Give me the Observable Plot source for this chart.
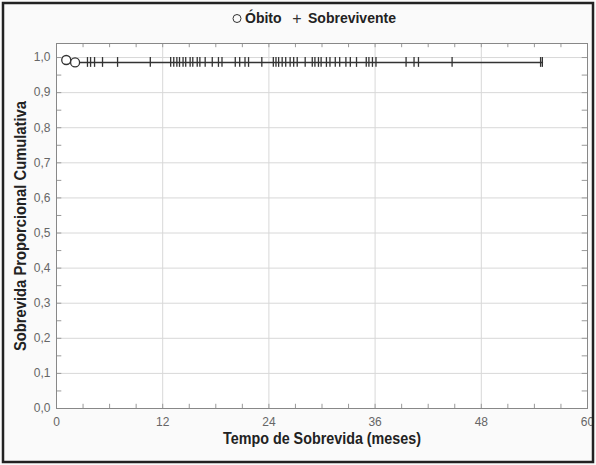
<!DOCTYPE html>
<html><head><meta charset="utf-8">
<script src="https://cdn.jsdelivr.net/npm/d3@7"></script>
<script src="https://cdn.jsdelivr.net/npm/@observablehq/plot@0.6"></script>
<style>
body{margin:0;background:#fff;}
#chart{width:596px;height:465px;}
</style></head>
<body><div id="chart"></div>
<script>
const obitoTimes = [1.1, 2.1];
const obitoSurv = [0.993, 0.986];
const censorTimes = [3.5, 3.85, 4.3, 5.2, 6.9, 10.6, 12.9, 13.25, 13.6, 13.9, 14.3, 14.6, 15.1, 15.4, 15.9, 16.2, 16.8, 17.6, 18.3, 18.7, 20.2, 20.7, 21.3, 21.7, 23.2, 24.5, 24.8, 25.1, 25.5, 25.9, 26.4, 26.8, 27.2, 28.1, 28.9, 29.2, 29.6, 29.9, 30.5, 30.9, 31.5, 32.0, 32.7, 33.2, 33.9, 35.0, 35.3, 35.7, 36.1, 39.5, 40.4, 40.9, 44.7, 54.7, 54.9];
const censorSurv = 0.986;
const xTicks = [0, 12, 24, 36, 48, 60];
const yTicks = [0, 0.1, 0.2, 0.3, 0.4, 0.5, 0.6, 0.7, 0.8, 0.9, 1.0];
const xMinor = d3.range(0, 61, 3);
const yMinor = d3.range(0, 1.04, 0.05);
const xTitle = "Tempo de Sobrevida (meses)";
const yTitle = "Sobrevida Proporcional Cumulativa";
const legendLabels = ["Óbito", "Sobrevivente"];

const obito = obitoTimes.map((t, i) => ({t, s: obitoSurv[i]}));
const censor = censorTimes.map(t => ({t, s: censorSurv}));
const curve = [...obito, {t: d3.max(censorTimes), s: censorSurv}];

const fmt = d => d.toFixed(1).replace(".", ",");
const font = "'Liberation Sans', Arial, sans-serif";

const chart = Plot.plot({
  width: 596, height: 465,
  marginLeft: 56, marginRight: 9, marginTop: 43, marginBottom: 57,
  style: {fontFamily: font, background: "#fafafa", overflow: "visible"},
  x: {domain: [0, 60], ticks: xTicks, label: null},
  y: {domain: [0, 1.04], ticks: yTicks, label: null},
  marks: [
    Plot.frame({fill: "#fff"}),
    Plot.gridX(xTicks, {stroke: "#d8d8d8", strokeOpacity: 1}),
    Plot.gridY(yTicks, {stroke: "#d8d8d8", strokeOpacity: 1}),
    Plot.ruleX(xMinor, {y1: 0, y2: 0.012, stroke: "#999"}),
    Plot.ruleX(xMinor, {y1: 1.04, y2: 1.028, stroke: "#999"}),
    Plot.ruleY(yMinor, {x1: 0, x2: 0.6, stroke: "#999"}),
    Plot.ruleY(yMinor, {x1: 60, x2: 59.4, stroke: "#999"}),
    Plot.frame({stroke: "#888"}),
    Plot.axisX(xTicks, {tickSize: 0, tickPadding: 9, fontSize: 12, fill: "#666", fontFamily: font}),
    Plot.axisY(yTicks, {tickSize: 0, tickPadding: 6, tickFormat: fmt, fontSize: 12, fill: "#666", fontFamily: font}),
    Plot.line(curve, {x: "t", y: "s", curve: "step-after", stroke: "#333", strokeWidth: 1.6}),
    Plot.ruleX(censor, {x: "t", y1: d => d.s - 0.014, y2: d => d.s + 0.014, stroke: "#333", strokeWidth: 1.3}),
    Plot.dot(obito, {x: "t", y: "s", r: 4.5, fill: "#fff", stroke: "#333", strokeWidth: 1.3}),
    Plot.text([xTitle], {frameAnchor: "bottom", lineAnchor: "middle", textAnchor: "middle", dy: 30, fontSize: 17, fontWeight: "bold", fill: "#222", className: "xtitle"}),
    Plot.text([yTitle], {frameAnchor: "left", lineAnchor: "middle", textAnchor: "middle", dx: -36, rotate: -90, fontSize: 17, fontWeight: "bold", fill: "#222", className: "ytitle"}),
    Plot.dot([0], {frameAnchor: "top", dx: -85, dy: -25, r: 4, fill: "none", stroke: "#333", strokeWidth: 1}),
    Plot.text([legendLabels[0]], {frameAnchor: "top", lineAnchor: "middle", dx: -77, dy: -25, textAnchor: "start", fontSize: 14, fontWeight: "bold", fill: "#222"}),
    Plot.text(["+"], {frameAnchor: "top", lineAnchor: "middle", dx: -25, dy: -25, fontSize: 16, fill: "#333"}),
    Plot.text([legendLabels[1]], {frameAnchor: "top", lineAnchor: "middle", dx: -14, dy: -25, textAnchor: "start", fontSize: 14, fontWeight: "bold", fill: "#222"})
  ]
});
d3.select(chart).selectAll(".xtitle text").attr("textLength", 198).attr("lengthAdjust", "spacingAndGlyphs");
d3.select(chart).selectAll(".ytitle text").attr("textLength", 250).attr("lengthAdjust", "spacingAndGlyphs");
d3.select(chart).append("rect").attr("x", 3).attr("y", 3).attr("width", 590).attr("height", 459)
  .attr("fill", "none").attr("stroke", "#222").attr("stroke-width", 2.5);
document.getElementById("chart").append(chart);
</script></body></html>
